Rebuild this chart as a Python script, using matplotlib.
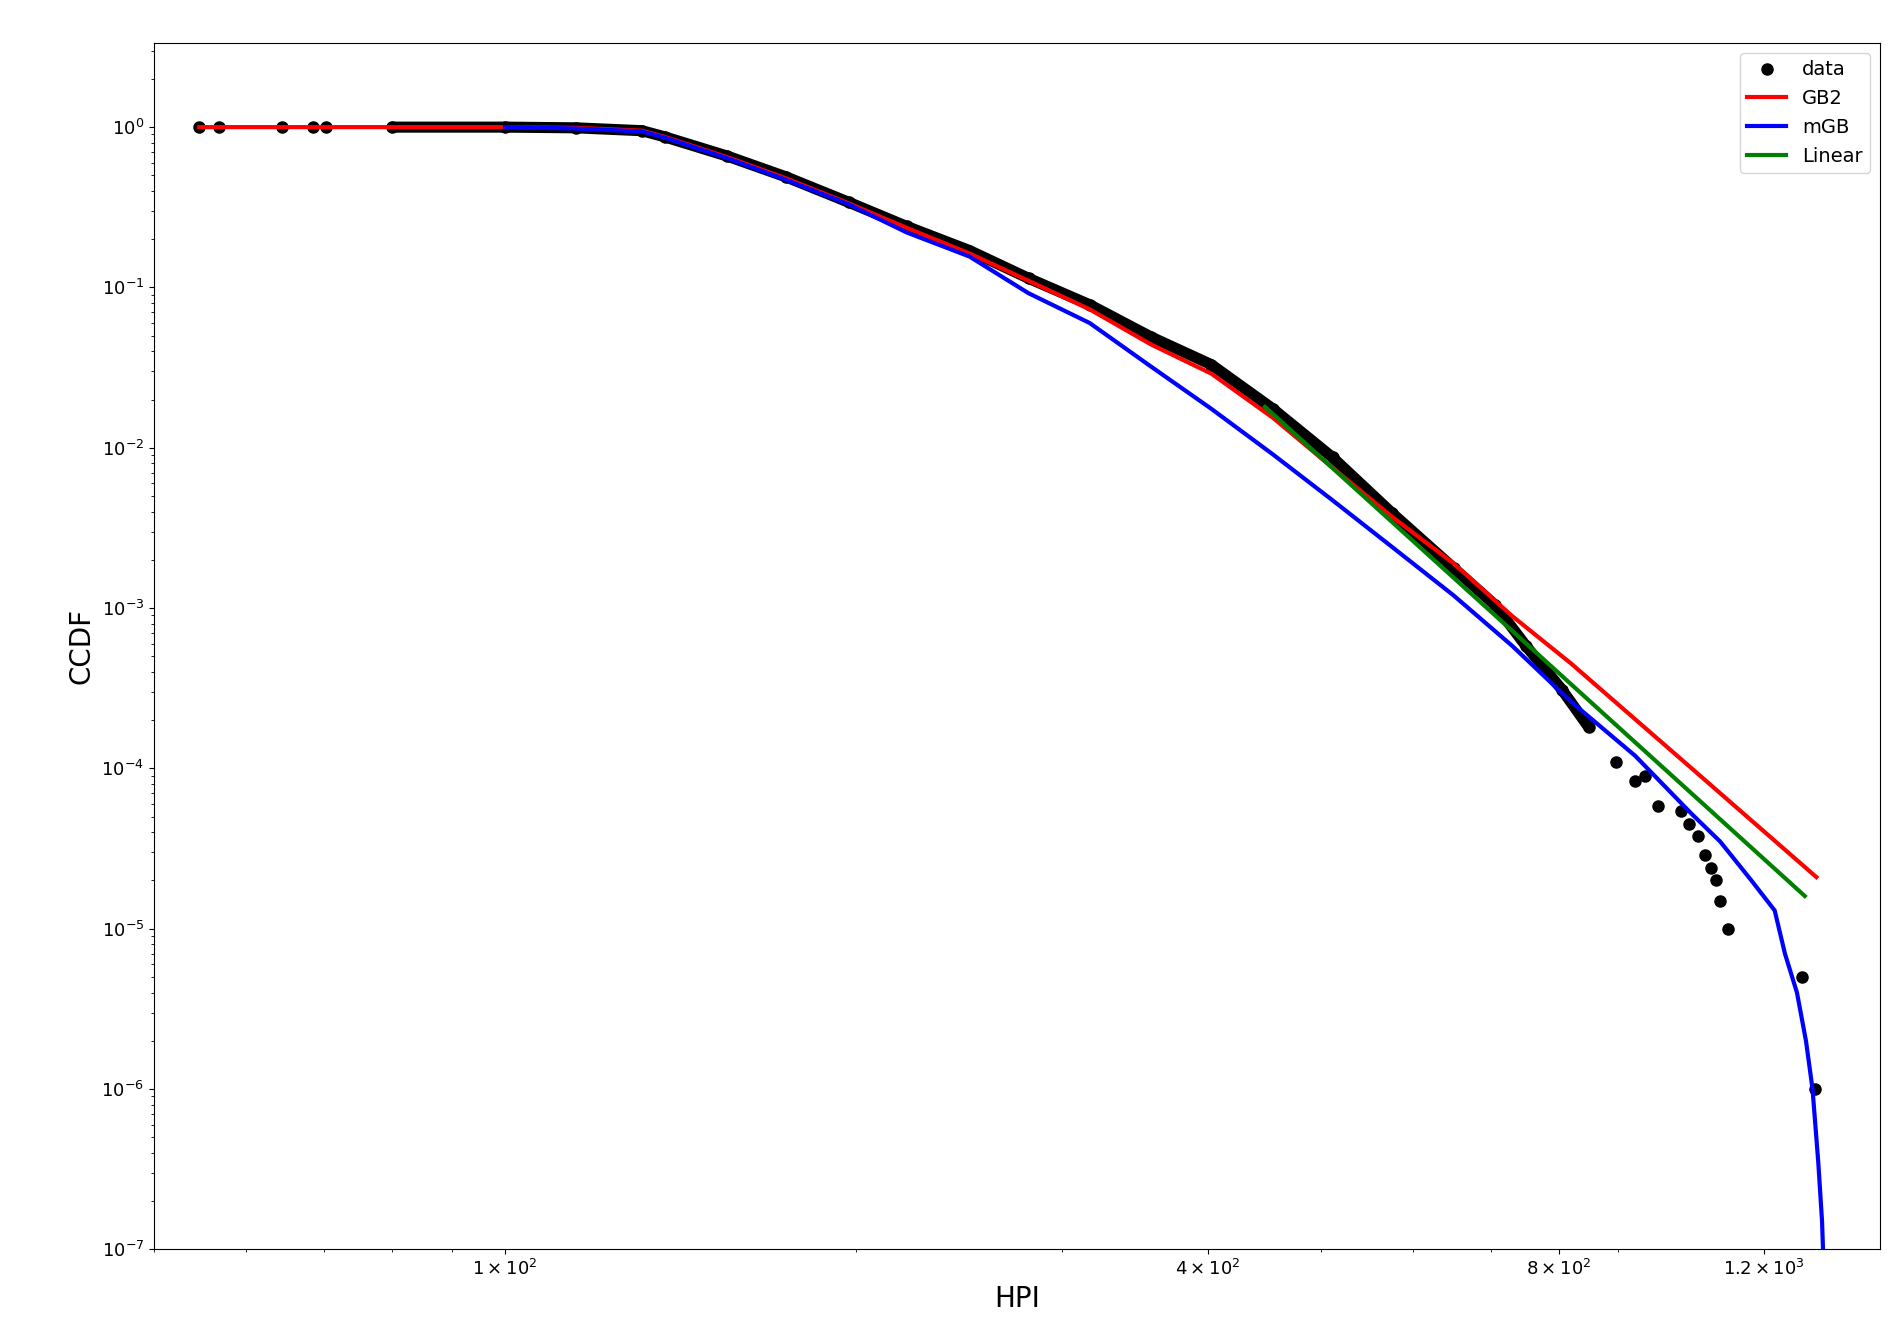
import numpy as np
import matplotlib.pyplot as plt
from matplotlib.ticker import FixedLocator, NullFormatter, LogLocator

# data
data_x = [54.7, 56.9, 64.4, 68.4, 70.3, 80, 100, 115, 131, 137, 155, 174, 197, 221, 250, 281,
          317, 358, 403, 455, 512, 576, 650, 705, 750, 805, 849, 896, 930, 949, 973, 1018,
          1035, 1053, 1067, 1081, 1091, 1100, 1117, 1293, 1326]
data_y = [1, 1, 1, 1, 1, 1, 1, 0.99, 0.95, 0.87, 0.66, 0.49, 0.34, 0.24, 0.17, 0.114,
          0.078, 0.049, 0.033, 0.0175, 0.0087, 0.0039, 0.00178, 0.00105, 5.8e-4, 3.1e-4,
          1.8e-4, 1.1e-4, 8.4e-5, 9e-5, 5.8e-5, 5.4e-5, 4.5e-5, 3.8e-5, 2.9e-5, 2.4e-5,
          2e-5, 1.5e-5, 1e-5, 5e-6, 1e-6]
n_dense = 27  # dense part drawn as thick line

gb2_x = [54.7, 100, 115, 131, 137, 155, 174, 197, 221, 250, 281, 317, 358, 403, 455, 512,
         576, 650, 730, 820, 1040, 1330]
gb2_y = [1, 1, 0.99, 0.95, 0.87, 0.65, 0.48, 0.335, 0.235, 0.163, 0.11, 0.073, 0.044, 0.029,
         0.0154, 0.0075, 3.7e-3, 1.9e-3, 8.9e-4, 4.5e-4, 1e-4, 2.1e-5]

mgb_x = [100, 115, 131, 137, 155, 174, 197, 221, 250, 281, 317, 358, 403, 455, 512, 576, 650,
         730, 820, 930, 1040, 1100, 1170, 1225, 1250, 1280, 1303, 1320, 1335, 1345, 1352]
mgb_y = [1, 0.98, 0.94, 0.86, 0.64, 0.47, 0.33, 0.22, 0.156, 0.092, 0.06, 0.032, 0.0175,
         0.0091, 0.0047, 2.4e-3, 1.2e-3, 5.8e-4, 2.6e-4, 1.2e-4, 5.2e-5, 3.5e-5, 2e-5, 1.3e-5,
         7e-6, 4e-6, 2e-6, 1e-6, 3.5e-7, 1.5e-7, 5e-8]

lin_x = [448, 1300]
lin_y = [0.018, 1.6e-5]

fig = plt.figure(figsize=(18.99, 13.42), dpi=100)
ax = fig.add_axes([0.081, 0.069, 0.909, 0.899])

ax.plot(data_x[5:n_dense], data_y[5:n_dense], color="black", lw=8, zorder=2,
        solid_capstyle="round")
ax.plot(data_x, data_y, "o", color="black", ms=8, label="data", zorder=2)
ax.plot(gb2_x, gb2_y, color="red", lw=3, label="GB2", zorder=3)
ax.plot(mgb_x, mgb_y, color="blue", lw=3, label="mGB", zorder=3)
ax.plot(lin_x, lin_y, color="green", lw=3, label="Linear", zorder=3)

ax.set_xscale("log")
ax.set_yscale("log")
ax.set_xlim(50, 1508)
ax.set_ylim(1e-7, 3.35)

ax.xaxis.set_major_locator(FixedLocator([100, 400, 800, 1200]))
ax.set_xticklabels([r"$1\times10^2$", r"$4\times10^2$", r"$8\times10^2$", r"$1.2\times10^3$"])
ax.xaxis.set_minor_locator(LogLocator(subs=np.arange(2, 10)))
ax.xaxis.set_minor_formatter(NullFormatter())
ax.tick_params(labelsize=13)

ax.set_xlabel("HPI", fontsize=20)
ax.set_ylabel("CCDF", fontsize=20)
ax.legend(loc="upper right", fontsize=14)

fig.savefig("out.png")
